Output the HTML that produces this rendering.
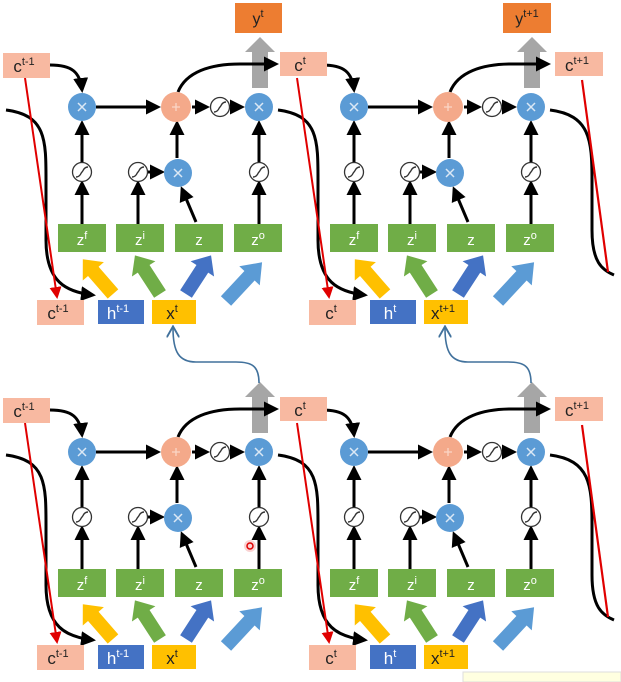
<!DOCTYPE html>
<html><head><meta charset="utf-8"><style>
html,body{margin:0;padding:0;background:#fff;width:621px;height:682px;overflow:hidden}
svg{display:block}
text{font-family:"Liberation Sans",sans-serif}
</style></head><body>
<svg width="621" height="682" viewBox="0 0 621 682" xmlns="http://www.w3.org/2000/svg">
<defs>
<marker id="ab" markerWidth="5" markerHeight="5" refX="4" refY="2.5" orient="auto" markerUnits="strokeWidth"><path d="M0,0 L5,2.5 L0,5 z" fill="#000"/></marker>
<marker id="ar" markerWidth="6" markerHeight="6" refX="5" refY="3" orient="auto" markerUnits="strokeWidth"><path d="M0,0 L6,3 L0,6 z" fill="#e00000"/></marker>
<marker id="abl" markerWidth="8" markerHeight="8" refX="6" refY="4" orient="auto" markerUnits="strokeWidth"><path d="M0,0 L7,4 L0,8" fill="none" stroke="#41719c" stroke-width="1.2"/></marker>
<g id="sig"><circle r="9.5" fill="#fff" stroke="#333" stroke-width="1.3"/><path d="M-6,5 C-1,5 -1,0 0,0 C1,0 1,-5 6,-5" fill="none" stroke="#333" stroke-width="1.4"/></g>
<g id="mul"><circle r="14" fill="#5b9bd5"/><path d="M-4,-4 L4,4 M4,-4 L-4,4" stroke="#dbe8f5" stroke-width="1.5"/></g>
<g id="barrow"><polygon points="-7,0 -7,-30 -14,-30 0,-46 14,-30 7,-30 7,0"/></g>
<g id="cell">
 <path d="M50 65 C72 65 80 72 82 90" fill="none" stroke="#000" stroke-width="3" marker-end="url(#ab)"/>
 <line x1="96" y1="107" x2="158" y2="107" stroke="#000" stroke-width="3" marker-end="url(#ab)"/>
 <line x1="192" y1="107" x2="207" y2="107" stroke="#000" stroke-width="3" marker-end="url(#ab)"/>
 <line x1="230" y1="107" x2="242" y2="107" stroke="#000" stroke-width="3" marker-end="url(#ab)"/>
 <polygon points="252,88 252,52 245,52 260,37 275,52 268,52 268,88" fill="#a6a6a6"/>
 <path d="M178 92 C186 72 210 64 240 64 L276 64" fill="none" stroke="#000" stroke-width="3" marker-end="url(#ab)"/>
 <line x1="82" y1="224" x2="82" y2="183" stroke="#000" stroke-width="3" marker-end="url(#ab)"/>
 <line x1="82" y1="162" x2="82" y2="123" stroke="#000" stroke-width="3" marker-end="url(#ab)"/>
 <line x1="138" y1="224" x2="138" y2="183" stroke="#000" stroke-width="3" marker-end="url(#ab)"/>
 <line x1="148" y1="172" x2="162" y2="172" stroke="#000" stroke-width="3" marker-end="url(#ab)"/>
 <line x1="196" y1="222" x2="182" y2="189" stroke="#000" stroke-width="3" marker-end="url(#ab)"/>
 <line x1="177" y1="158" x2="177" y2="123" stroke="#000" stroke-width="3" marker-end="url(#ab)"/>
 <line x1="259" y1="224" x2="259" y2="183" stroke="#000" stroke-width="3" marker-end="url(#ab)"/>
 <line x1="259" y1="162" x2="259" y2="123" stroke="#000" stroke-width="3" marker-end="url(#ab)"/>
 <use href="#mul" x="82" y="107"/>
 <circle cx="176" cy="107" r="15" fill="#f4a98a"/>
 <path d="M172,107 h8 M176,103 v8" stroke="#fbd6c6" stroke-width="1.3"/>
 <use href="#sig" x="220" y="107"/>
 <use href="#mul" x="259" y="107"/>
 <use href="#sig" x="82" y="172"/>
 <use href="#sig" x="138" y="172"/>
 <use href="#mul" x="178" y="173"/>
 <use href="#sig" x="259" y="172"/>
 <rect x="58" y="224" width="48" height="28" fill="#70ad47"/>
 <rect x="116" y="224" width="48" height="28" fill="#70ad47"/>
 <rect x="175" y="224" width="48" height="28" fill="#70ad47"/>
 <rect x="234" y="224" width="48" height="28" fill="#70ad47"/>
 <use href="#barrow" transform="translate(113,294) rotate(-41)" fill="#ffc000"/>
 <use href="#barrow" transform="translate(160,294) rotate(-33)" fill="#70ad47"/>
 <use href="#barrow" transform="translate(186,294) rotate(33)" fill="#4472c4"/>
 <use href="#barrow" transform="translate(226,301) rotate(43) scale(1,1.15)" fill="#5b9bd5"/>
</g>
<g id="link">
 <path d="M6 110 C46 115 46 140 46 180 L46 240 C46 282 66 292 93 295" fill="none" stroke="#000" stroke-width="3" marker-end="url(#ab)"/>
 <line x1="25" y1="78" x2="57" y2="297" stroke="#e00000" stroke-width="2" marker-end="url(#ar)"/>
</g>
<g id="endlink">
 <path d="M550 110 C590 115 592 140 592 180 L592 230 C592 262 602 270 614 275" fill="none" stroke="#000" stroke-width="3"/>
 <line x1="582" y1="80" x2="608" y2="272" stroke="#e00000" stroke-width="2.2"/>
</g>
<g id="gl">
 <text x="82" y="245" font-size="15" fill="#fff" text-anchor="middle">z<tspan font-size="11" dy="-6">f</tspan></text>
 <text x="140" y="245" font-size="15" fill="#fff" text-anchor="middle">z<tspan font-size="11" dy="-6">i</tspan></text>
 <text x="199" y="245" font-size="15" fill="#fff" text-anchor="middle">z</text>
 <text x="258" y="245" font-size="15" fill="#fff" text-anchor="middle">z<tspan font-size="11" dy="-6">o</tspan></text>
</g>
</defs>

<use href="#link" x="0" y="0"/><use href="#link" x="272" y="0"/><use href="#endlink" x="0" y="0"/>
<use href="#link" x="0" y="345"/><use href="#link" x="272" y="345"/><use href="#endlink" x="0" y="345"/>
<use href="#cell" x="0" y="0"/><use href="#cell" x="272" y="0"/>
<use href="#cell" x="0" y="345"/><use href="#cell" x="272" y="345"/>
<use href="#gl" x="0" y="0"/><use href="#gl" x="272" y="0"/>
<use href="#gl" x="0" y="345"/><use href="#gl" x="272" y="345"/>

<path d="M259 383 C259 366 252 362 236 362 L196 362 C179 362 173 352 173 328" fill="none" stroke="#41719c" stroke-width="1.6" marker-end="url(#abl)"/>
<path d="M531 383 C531 366 524 362 508 362 L468 362 C451 362 445 352 445 328" fill="none" stroke="#41719c" stroke-width="1.6" marker-end="url(#abl)"/>

<rect x="235" y="3" width="47" height="30" fill="#ed7d31"/>
<text x="258" y="24" font-size="16" fill="#222" text-anchor="middle">y<tspan font-size="11" dy="-7">t</tspan></text>
<rect x="503" y="3" width="48" height="30" fill="#ed7d31"/>
<text x="527" y="24" font-size="16" fill="#222" text-anchor="middle">y<tspan font-size="11" dy="-7">t+1</tspan></text>

<g font-size="17" fill="#222" text-anchor="middle">
<rect x="3" y="53" width="47" height="25" fill="#f8b9a1"/><text x="24" y="72">c<tspan font-size="11" dy="-7">t-1</tspan></text>
<rect x="280" y="52" width="47" height="24" fill="#f8b9a1"/><text x="300" y="71">c<tspan font-size="11" dy="-7">t</tspan></text>
<rect x="555" y="52" width="48" height="24" fill="#f8b9a1"/><text x="577" y="71">c<tspan font-size="11" dy="-7">t+1</tspan></text>
<rect x="3" y="398" width="47" height="25" fill="#f8b9a1"/><text x="24" y="417">c<tspan font-size="11" dy="-7">t-1</tspan></text>
<rect x="280" y="397" width="47" height="24" fill="#f8b9a1"/><text x="300" y="416">c<tspan font-size="11" dy="-7">t</tspan></text>
<rect x="555" y="397" width="48" height="24" fill="#f8b9a1"/><text x="577" y="416">c<tspan font-size="11" dy="-7">t+1</tspan></text>
</g>

<g font-size="17" fill="#222" text-anchor="middle">
<rect x="37" y="300" width="47" height="25" fill="#f8b9a1"/><text x="58" y="319">c<tspan font-size="11" dy="-7">t-1</tspan></text>
<rect x="98" y="300" width="46" height="24" fill="#4472c4"/><text x="118" y="319" fill="#fff">h<tspan font-size="11" dy="-7">t-1</tspan></text>
<rect x="152" y="300" width="44" height="24" fill="#ffc000"/><text x="172" y="319">x<tspan font-size="11" dy="-7">t</tspan></text>
<rect x="309" y="300" width="47" height="25" fill="#f8b9a1"/><text x="331" y="319">c<tspan font-size="11" dy="-7">t</tspan></text>
<rect x="370" y="300" width="46" height="24" fill="#4472c4"/><text x="390" y="319" fill="#fff">h<tspan font-size="11" dy="-7">t</tspan></text>
<rect x="424" y="300" width="44" height="24" fill="#ffc000"/><text x="443" y="319">x<tspan font-size="11" dy="-7">t+1</tspan></text>

<rect x="37" y="645" width="47" height="25" fill="#f8b9a1"/><text x="58" y="664">c<tspan font-size="11" dy="-7">t-1</tspan></text>
<rect x="98" y="645" width="46" height="24" fill="#4472c4"/><text x="118" y="664" fill="#fff">h<tspan font-size="11" dy="-7">t-1</tspan></text>
<rect x="152" y="645" width="44" height="24" fill="#ffc000"/><text x="172" y="664">x<tspan font-size="11" dy="-7">t</tspan></text>
<rect x="309" y="645" width="47" height="25" fill="#f8b9a1"/><text x="331" y="664">c<tspan font-size="11" dy="-7">t</tspan></text>
<rect x="370" y="645" width="46" height="24" fill="#4472c4"/><text x="390" y="664" fill="#fff">h<tspan font-size="11" dy="-7">t</tspan></text>
<rect x="424" y="645" width="44" height="24" fill="#ffc000"/><text x="443" y="664">x<tspan font-size="11" dy="-7">t+1</tspan></text>
</g>

<circle cx="250" cy="546" r="6" fill="#f8c0c0" opacity="0.7"/>
<circle cx="250" cy="546" r="3" fill="none" stroke="#e00000" stroke-width="1.5"/>
<rect x="463" y="672" width="158" height="10" fill="#ffffe0" stroke="#ddd"/>
</svg>
</body></html>
